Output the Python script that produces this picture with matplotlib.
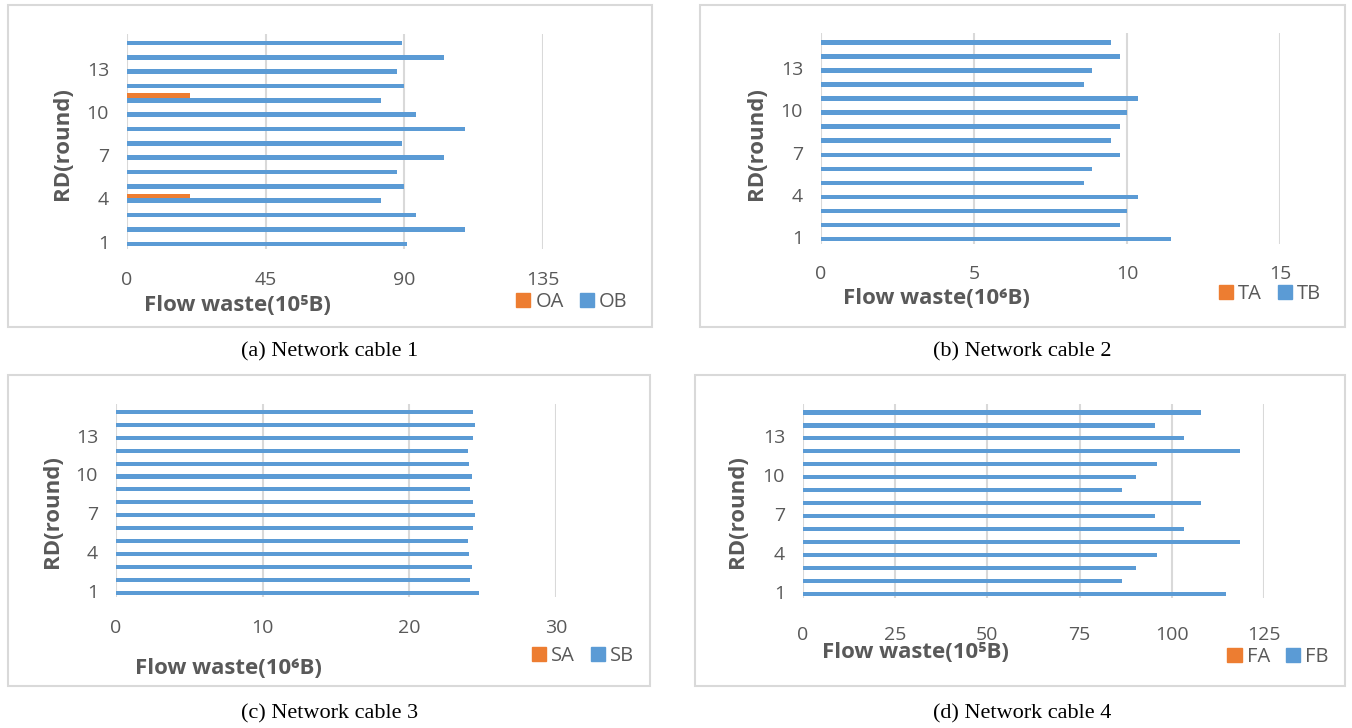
"""
Flow waste per round for four network cables — 2x2 grid of horizontal bar charts.
"""

import numpy as np
import matplotlib
matplotlib.use('Agg')
import matplotlib.pyplot as plt
from matplotlib.patches import Rectangle, Patch

plt.rcParams['font.family'] = ['Open Sans', 'DejaVu Sans']

ROUNDS = np.arange(1, 16)
ROUND_TICKS = [1, 4, 7, 10, 13]

# cable 1 (10^5 B)
OA = [0, 0, 0, 20.3, 0, 0, 0, 0, 0, 0, 20.3, 0, 0, 0, 0]
OB = [90.8, 109.7, 93.8, 82.5, 90.0, 87.5, 103.0, 89.3,
      109.7, 93.8, 82.5, 90.0, 87.5, 103.0, 89.3]
# cable 2 (10^6 B)
TA = [0] * 15
TB = [11.45, 9.76, 10.0, 10.36, 8.59, 8.85, 9.76, 9.48,
      9.76, 10.0, 10.36, 8.59, 8.85, 9.76, 9.48]
# cable 3 (10^6 B)
SA = [0] * 15
SB = [24.72, 24.15, 24.24, 24.1, 23.98, 24.36, 24.5, 24.36,
      24.15, 24.24, 24.1, 23.98, 24.36, 24.5, 24.36]
# cable 4 (10^5 B)
FA = [0] * 15
FB = [114.6, 86.6, 90.4, 96.0, 118.6, 103.4, 95.5, 108.0,
      86.6, 90.4, 96.0, 118.6, 103.4, 95.5, 108.0]

X_TICKS = {
    'a': [0, 45, 90, 135],
    'b': [0, 5, 10, 15],
    'c': [0, 10, 20, 30],
    'd': [0, 25, 50, 75, 100, 125],
}
X_LABELS = {'a': 'Flow waste(10⁵B)', 'b': 'Flow waste(10⁶B)',
            'c': 'Flow waste(10⁶B)', 'd': 'Flow waste(10⁵B)'}
CAPTIONS = {'a': '(a) Network cable 1', 'b': '(b) Network cable 2',
            'c': '(c) Network cable 3', 'd': '(d) Network cable 4'}

ORANGE = '#ED7D31'
BLUE = '#5B9BD5'
GRID = '#D9D9D9'
TEXT = '#595959'

W, H = 1352, 728

# pixel layout: plot area (x0, x1, y_top, y_bottom), frame box (x0, y0, x1, y1),
# caption centre, x-label left/centre, y-label centre, legend centre
LAYOUT = {
    'a': dict(plot=(127, 543, 33.5, 248.7), box=(8, 5, 652, 327), cap=(330, 352),
              xpad=16, xlab=(144, 305), ylab=(62, 144), leg=(572, 302)),
    'b': dict(plot=(821, 1280, 33, 244), box=(700, 5, 1345, 327), cap=(1022, 352),
              xpad=15, xlab=(843, 298), ylab=(757, 144), leg=(1270, 294)),
    'c': dict(plot=(116, 556, 403.5, 597), box=(8, 375, 650, 686), cap=(330, 714),
              xpad=16, xlab=(135, 668), ylab=(52, 512), leg=(583, 656)),
    'd': dict(plot=(803, 1264, 404, 598), box=(695, 375, 1345, 686), cap=(1022, 714),
              xpad=20, xlab=(822, 652), ylab=(738, 512), leg=(1278, 657)),
}


def fx(px):
    return px / W


def fy(py):
    return 1 - py / H


def draw_panel(fig, key, a_vals, b_vals, names):
    lay = LAYOUT[key]
    x0, x1, yt, yb = lay['plot']
    ax = fig.add_axes([fx(x0), fy(yb), (x1 - x0) / W, (yb - yt) / H])

    # light frame round each chart
    bx0, by0, bx1, by1 = lay['box']
    fig.patches.append(Rectangle((fx(bx0), fy(by1)), (bx1 - bx0) / W, (by1 - by0) / H,
                                 transform=fig.transFigure, fill=False,
                                 edgecolor=GRID, linewidth=1.5, zorder=0))

    h = 0.32
    ax.barh(ROUNDS + h / 2, a_vals, height=h, color=ORANGE, label=names[0], zorder=3)
    ax.barh(ROUNDS - h / 2, b_vals, height=h, color=BLUE, label=names[1], zorder=3)

    ticks = X_TICKS[key]
    ax.set_xlim(ticks[0], ticks[-1])
    ax.set_ylim(0.5, 15.5)
    ax.set_xticks(ticks)
    ax.set_yticks(ROUND_TICKS)
    ax.grid(axis='x', color=GRID, linewidth=1.5, zorder=0)
    ax.set_axisbelow(True)
    for s in ax.spines.values():
        s.set_visible(False)
    ax.tick_params(axis='both', length=0, labelsize=14, labelcolor=TEXT)
    ax.tick_params(axis='x', pad=lay['xpad'])
    ax.tick_params(axis='y', pad=13)

    ax.set_xlabel(X_LABELS[key], fontsize=16, fontweight='bold', color=TEXT)
    ax.xaxis.set_label_coords(fx(lay['xlab'][0]), fy(lay['xlab'][1]),
                              transform=fig.transFigure)
    ax.xaxis.label.set_ha('left')
    ax.xaxis.label.set_va('center')
    ax.set_ylabel('RD(round)', fontsize=16, fontweight='bold', color=TEXT)
    ax.yaxis.set_label_coords(fx(lay['ylab'][0]), fy(lay['ylab'][1]),
                              transform=fig.transFigure)
    ax.yaxis.label.set_va('center')

    handles = [Patch(color=ORANGE), Patch(color=BLUE)]
    ax.legend(handles, names, loc='center',
              bbox_to_anchor=(fx(lay['leg'][0]), fy(lay['leg'][1])),
              bbox_transform=fig.transFigure, ncol=2, frameon=False,
              fontsize=14.5, labelcolor=TEXT, handlelength=0.7, handleheight=0.75,
              handletextpad=0.25, columnspacing=0.8, borderpad=0, borderaxespad=0)

    fig.text(fx(lay['cap'][0]), fy(lay['cap'][1]), CAPTIONS[key],
             ha='center', va='center', fontsize=16, family='Liberation Serif')
    return ax


def main():
    fig = plt.figure(figsize=(W / 100, H / 100), dpi=100)
    draw_panel(fig, 'a', OA, OB, ['OA', 'OB'])
    draw_panel(fig, 'b', TA, TB, ['TA', 'TB'])
    draw_panel(fig, 'c', SA, SB, ['SA', 'SB'])
    draw_panel(fig, 'd', FA, FB, ['FA', 'FB'])
    fig.savefig('out.png', dpi=100)
    plt.close()


if __name__ == '__main__':
    main()
